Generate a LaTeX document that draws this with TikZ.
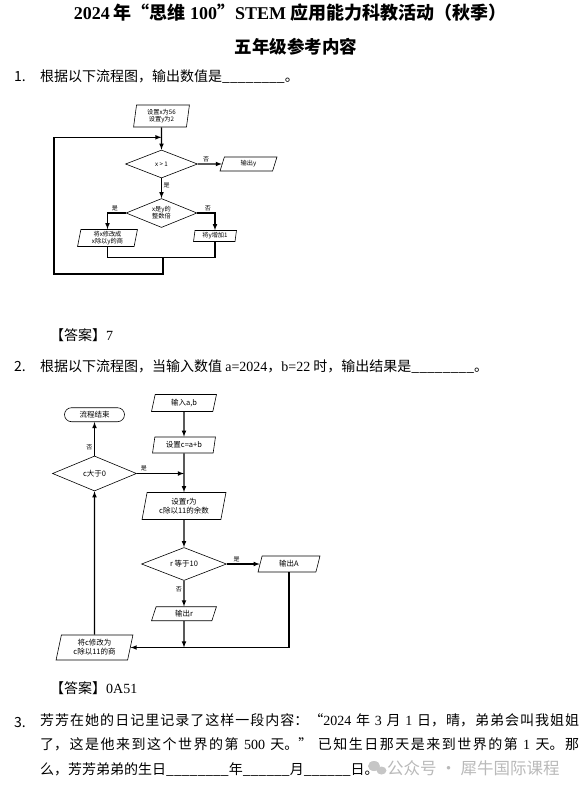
\documentclass[tikz,border=0pt]{standalone}
\usepackage{fontspec}
\setmainfont{Noto Sans CJK SC}
\newfontfamily\en{Liberation Serif}
\usetikzlibrary{shapes.geometric}
\XeTeXlinebreaklocale "zh"
\XeTeXlinebreakskip=0pt plus 1pt

\begin{document}
\begin{tikzpicture}[x=1pt, y=-1pt, font=\fontsize{14}{18}\selectfont, every node/.style={inner sep=0pt}]
\tikzset{
  box/.style={draw, line width=0.6pt, trapezium, trapezium left angle=78, trapezium right angle=102,
    trapezium stretches=true, align=center},
  dec/.style={draw, line width=0.6pt, diamond, aspect=2.5, align=center},
  stopbox/.style={draw, line width=0.6pt, rounded corners=7pt, align=center},
  flow/.style={->, >=latex, line width=1.1pt},
  link/.style={line width=1.1pt},
  yn/.style={font=\fontsize{6}{6}\selectfont, inner sep=1.5pt}
}
\useasboundingbox (0,0) rectangle (586,788);

% heading
\node[font=\fontsize{18}{20}\selectfont\bfseries] (title) at (290,13)
  {{\en 2024} 年“思维 {\en 100}”{\en STEM} 应用能力科教活动（秋季）};
\node[font=\fontsize{17.5}{20}\selectfont\bfseries] (subtitle) at (296,47) {五年级参考内容};

% question 1
\node[anchor=west] (n1) at (14,77) {1.};
\node[anchor=west] (q1) at (40,77) {根据以下流程图，输出数值是\_\_\_\_\_\_\_\_。};

\begin{scope}[font=\fontsize{6.2}{7.2}\selectfont]
  \node[box, trapezium left angle=83, trapezium right angle=97, minimum width=56, minimum height=22]
    (init) at (161.5,116) {设置x为56\\设置y为2};
  \node[dec, minimum width=72, minimum height=28] (gt) at (161.5,164) {x > 1};
  \node[box, minimum width=57, minimum height=14] (outy) at (248.5,164) {输出y};
  \node[dec, minimum width=71, minimum height=29] (mult) at (161.5,213) {x是y的\\整数倍};
  \node[box, trapezium left angle=82, trapezium right angle=98, minimum width=60, minimum height=17]
    (divx) at (107.5,238) {将x修改成\\x除以y的商};
  \node[box, trapezium left angle=82, trapezium right angle=98, minimum width=43, minimum height=11]
    (incy) at (215,236) {将y增加1};
  \coordinate (merge1) at (163,257.3);
  \coordinate (loopbot) at (54,274);
  \coordinate (loopin) at (161.5,137.3);

  \draw[flow] (init) -- (gt);
  \draw[flow] (gt) -- node[yn, above, pos=0.35] {否} (outy);
  \draw[flow] (gt) -- node[yn, right, pos=0.35] {是} (mult);
  \draw[flow] (mult.west) -| node[yn, above, pos=0.3] {是} (divx);
  \draw[flow] (mult.east) -| node[yn, above, pos=0.3] {否} (incy);
  \draw[link] (divx) |- (merge1) -| (incy);
  \draw[flow] (merge1) |- (loopbot) |- (loopin);
\end{scope}

\node[anchor=west] (a1) at (50,335) {【答案】{\en 7}};

% question 2
\node[anchor=west] (n2) at (14,367) {2.};
\node[anchor=west] (q2) at (40,367)
  {根据以下流程图，当输入数值 {\en a=2024}，{\en b=22} 时，输出结果是\_\_\_\_\_\_\_\_。};

\begin{scope}[font=\fontsize{7.5}{9}\selectfont]
  \node[box, minimum width=65, minimum height=17] (inab) at (184,403) {输入a,b};
  \node[box, minimum width=63, minimum height=16] (setc) at (184,445) {设置c=a+b};
  \node[dec, minimum width=84, minimum height=35] (cpos) at (94.5,473.5) {c大于0};
  \node[stopbox, minimum width=60, minimum height=14] (stop) at (94.5,414.7) {流程结束};
  \node[box, minimum width=84, minimum height=27] (setr) at (184,506) {设置r为\\c除以11的余数};
  \node[dec, minimum width=85, minimum height=33] (r10) at (184,564) {r 等于10};
  \node[box, minimum width=62, minimum height=16] (outA) at (289,564) {输出A};
  \node[box, minimum width=65, minimum height=14] (outr) at (184,613.7) {输出r};
  \node[box, minimum width=77, minimum height=25] (divc) at (94.5,647.5) {将c修改为\\c除以11的商};
  \coordinate (join2) at (184,473.5);
  \coordinate (join3) at (184,647.5);

  \draw[flow] (inab) -- (setc);
  \draw[flow] (setc) -- (setr);
  \draw[flow] (cpos) -- node[yn, above, pos=0.15] {是} (join2);
  \draw[flow] (cpos) -- node[yn, left, pos=0.25] {否} (stop);
  \draw[flow] (setr) -- (r10);
  \draw[flow] (r10) -- node[yn, above, pos=0.3] {是} (outA);
  \draw[flow] (r10) -- node[yn, left, pos=0.35] {否} (outr);
  \draw[flow] (outr) -- (join3);
  \draw[flow] (outA) |- (divc);
  \draw[flow] (divc) -- (cpos);
\end{scope}

\node[anchor=west] (a2) at (50,688) {【答案】{\en 0A51}};

% question 3
\node[anchor=west] (n3) at (14,722) {3.};
\node[anchor=north west, text width=539pt, align=justify, font=\fontsize{14}{24.5}\selectfont]
  (q3) at (40,713)
  {芳芳在她的日记里记录了这样一段内容：“{\en 2024} 年 {\en 3} 月 {\en 1} 日，晴，弟弟会叫我姐姐\linebreak
   了，这是他来到这个世界的第 {\en 500} 天。” 已知生日那天是来到世界的第 {\en 1} 天。那\linebreak
   么，芳芳弟弟的生日\_\_\_\_\_\_\_\_年\_\_\_\_\_\_月\_\_\_\_\_\_日。};

% watermark
\fill[gray!45] (374,766) ellipse (6 and 5);
\fill[gray!45] (381.5,770.5) ellipse (5 and 4);
\node[anchor=west, text=gray!55, font=\fontsize{16.5}{17}\selectfont] (wm) at (387,768) {公众号 · 犀牛国际课程};
\end{tikzpicture}
\end{document}
